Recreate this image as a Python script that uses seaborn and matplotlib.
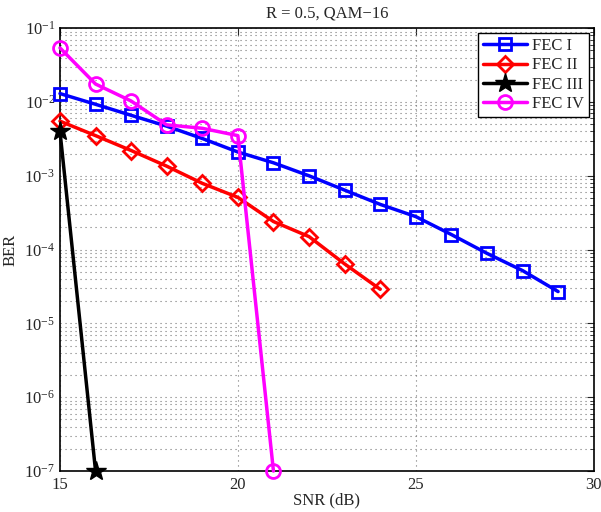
import numpy as np
import pandas as pd
import matplotlib
matplotlib.use("Agg")
import matplotlib.pyplot as plt
import seaborn as sns
from matplotlib.ticker import NullFormatter, FixedLocator, LogFormatterMathtext

snr1 = [15, 16, 17, 18, 19, 20, 21, 22, 23, 24, 25, 26, 27, 28, 29]
ber1 = [1.3e-2, 9.3e-3, 6.6e-3, 4.7e-3, 3.2e-3, 2.1e-3, 1.5e-3, 1.0e-3, 6.4e-4, 4.1e-4, 2.8e-4, 1.6e-4, 8.9e-5, 5.2e-5, 2.7e-5]
snr2 = [15, 16, 17, 18, 19, 20, 21, 22, 23, 24]
ber2 = [5.5e-3, 3.5e-3, 2.2e-3, 1.35e-3, 7.9e-4, 5.1e-4, 2.4e-4, 1.5e-4, 6.4e-5, 2.9e-5]
snr3 = [15, 16]
ber3 = [4.0e-3, 1e-7]
snr4 = [15, 16, 17, 18, 19, 20, 21]
ber4 = [5.4e-2, 1.75e-2, 1.03e-2, 4.9e-3, 4.4e-3, 3.5e-3, 1e-7]
labels = ["FEC I", "FEC II", "FEC III", "FEC IV"]
xticks = [15, 20, 25, 30]
yticks = [1e-7, 1e-6, 1e-5, 1e-4, 1e-3, 1e-2, 1e-1]

sns.set_style("white")
plt.rcParams["font.family"] = ["Liberation Serif", "DejaVu Serif"]
plt.rcParams["mathtext.fontset"] = "custom"
plt.rcParams["mathtext.rm"] = "Liberation Serif"
plt.rcParams["mathtext.it"] = "Liberation Serif:italic"

fig = plt.figure(figsize=(6.01, 5.12), dpi=100)
ax = fig.add_axes([0.0998, 0.080, 0.888, 0.865])

styles = [
    dict(color="#0000ff", marker="s", markersize=8, mfc="none", mew=2.0),
    dict(color="#ff0000", marker="D", markersize=8, mfc="none", mew=2.0),
    dict(color="#000000", marker="*", markersize=15, mfc="#000000", mew=1.0),
    dict(color="#ff00ff", marker="o", markersize=10, mfc="none", mew=2.0),
]
series = [(snr1, ber1), (snr2, ber2), (snr3, ber3), (snr4, ber4)]
for (x, y), lab, st in zip(series, labels, styles):
    df = pd.DataFrame({"SNR": x, "BER": y})
    sns.lineplot(data=df, x="SNR", y="BER", ax=ax, label=lab, linewidth=2.5,
                 color=st["color"], marker=st["marker"], markersize=st["markersize"],
                 markerfacecolor=st["mfc"], markeredgecolor=st["color"],
                 markeredgewidth=st["mew"], clip_on=False, zorder=3)

ax.set_yscale("log")
ax.set_xlim(15, 30)
ax.set_ylim(1e-7, 1e-1)
ax.xaxis.set_major_locator(FixedLocator(xticks))
ax.yaxis.set_major_locator(FixedLocator(yticks))
ax.yaxis.set_major_formatter(LogFormatterMathtext())
minors = [m * d for d in yticks[:-1] for m in range(2, 10)]
ax.yaxis.set_minor_locator(FixedLocator(minors))
ax.yaxis.set_minor_formatter(NullFormatter())

ax.grid(True, which="major", axis="both", linestyle=(0, (1, 3.5)), color="#777777", linewidth=0.8)
ax.grid(True, which="minor", axis="y", linestyle=(0, (1, 3.5)), color="#777777", linewidth=0.8)
ax.tick_params(which="both", direction="in", top=True, right=True, labelsize=12)
ax.tick_params(which="major", length=5)
ax.tick_params(axis="x", which="major", pad=4)
ax.tick_params(which="minor", length=3)
for s in ax.spines.values():
    s.set_color("black")
    s.set_linewidth(1.2)

ax.set_xlabel("SNR (dB)", fontsize=12, labelpad=0)
ax.set_ylabel("BER", fontsize=12, labelpad=4)
ax.set_title("R = 0.5, QAM\u221216", fontsize=12, pad=8)

leg = ax.legend(loc="upper right", fontsize=12, frameon=True, fancybox=False,
                edgecolor="black", framealpha=1, handlelength=2.6, borderpad=0.3,
                labelspacing=0.2, handletextpad=0.3, borderaxespad=0.3)
leg.get_frame().set_linewidth(1.0)

fig.savefig("out.png", dpi=100)
